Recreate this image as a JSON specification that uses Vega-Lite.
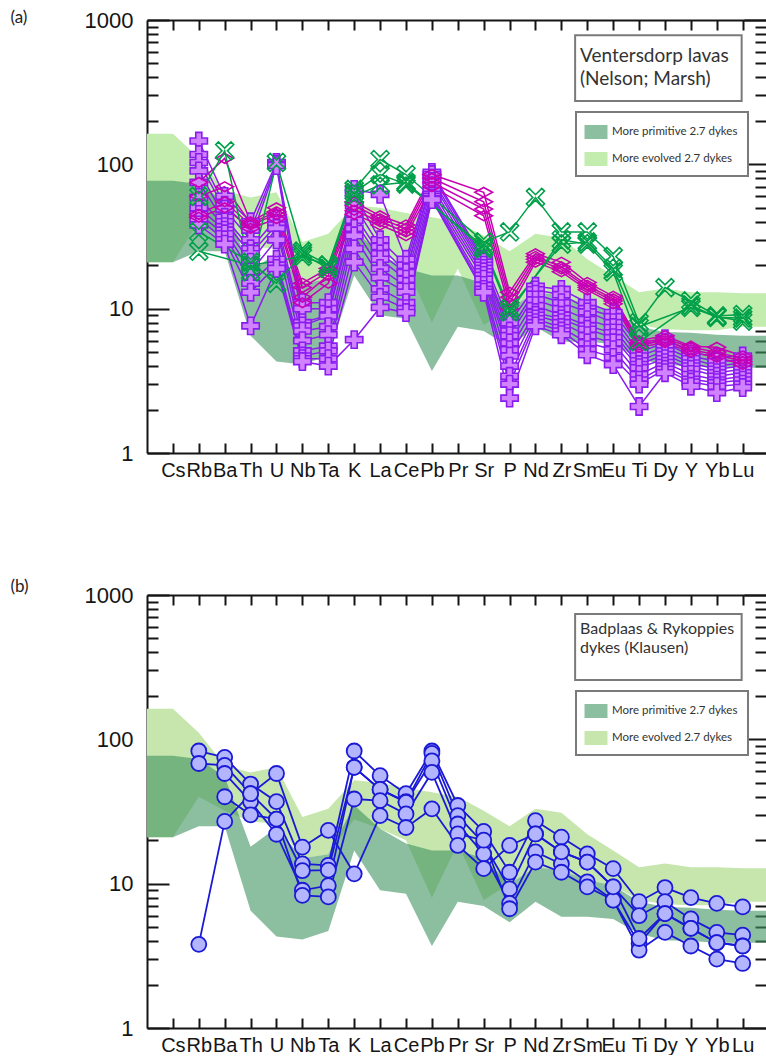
{
  "$schema": "https://vega.github.io/schema/vega-lite/v6.json",
  "background": "white",
  "padding": {"left": 10, "top": 8, "right": 0, "bottom": 0},
  "spacing": 97,
  "config": {
    "view": {"stroke": null},
    "axis": {
      "domainColor": "#151515", "domainWidth": 2,
      "tickColor": "#151515", "tickWidth": 2,
      "grid": false,
      "labelFont": "Liberation Sans", "labelColor": "#151515"
    }
  },
  "datasets": {
    "elements": [
      {"el": "Cs", "pos": 1}, {"el": "Rb", "pos": 2}, {"el": "Ba", "pos": 3}, {"el": "Th", "pos": 4},
      {"el": "U", "pos": 5}, {"el": "Nb", "pos": 6}, {"el": "Ta", "pos": 7}, {"el": "K", "pos": 8},
      {"el": "La", "pos": 9}, {"el": "Ce", "pos": 10}, {"el": "Pb", "pos": 11}, {"el": "Pr", "pos": 12},
      {"el": "Sr", "pos": 13}, {"el": "P", "pos": 14}, {"el": "Nd", "pos": 15}, {"el": "Zr", "pos": 16},
      {"el": "Sm", "pos": 17}, {"el": "Eu", "pos": 18}, {"el": "Ti", "pos": 19}, {"el": "Dy", "pos": 20},
      {"el": "Y", "pos": 21}, {"el": "Yb", "pos": 22}, {"el": "Lu", "pos": 23}
    ],
    "bands": [
      {"band": "More primitive 2.7 dykes", "pos": 0, "lo": 21, "hi": 77},
      {"band": "More primitive 2.7 dykes", "pos": 1, "lo": 21, "hi": 77},
      {"band": "More primitive 2.7 dykes", "pos": 2, "lo": 25, "hi": 73},
      {"band": "More primitive 2.7 dykes", "pos": 3, "lo": 25, "hi": 55},
      {"band": "More primitive 2.7 dykes", "pos": 4, "lo": 6.5, "hi": 18},
      {"band": "More primitive 2.7 dykes", "pos": 5, "lo": 4.3, "hi": 24.5},
      {"band": "More primitive 2.7 dykes", "pos": 6, "lo": 4.1, "hi": 15},
      {"band": "More primitive 2.7 dykes", "pos": 7, "lo": 4.7, "hi": 16},
      {"band": "More primitive 2.7 dykes", "pos": 8, "lo": 17, "hi": 35},
      {"band": "More primitive 2.7 dykes", "pos": 9, "lo": 9, "hi": 24},
      {"band": "More primitive 2.7 dykes", "pos": 10, "lo": 8.5, "hi": 19},
      {"band": "More primitive 2.7 dykes", "pos": 11, "lo": 3.7, "hi": 17},
      {"band": "More primitive 2.7 dykes", "pos": 12, "lo": 7.5, "hi": 17},
      {"band": "More primitive 2.7 dykes", "pos": 13, "lo": 7, "hi": 15},
      {"band": "More primitive 2.7 dykes", "pos": 14, "lo": 5.4, "hi": 10},
      {"band": "More primitive 2.7 dykes", "pos": 15, "lo": 7.5, "hi": 13},
      {"band": "More primitive 2.7 dykes", "pos": 16, "lo": 5.9, "hi": 12.4},
      {"band": "More primitive 2.7 dykes", "pos": 17, "lo": 5.9, "hi": 10.6},
      {"band": "More primitive 2.7 dykes", "pos": 18, "lo": 5.7, "hi": 9.7},
      {"band": "More primitive 2.7 dykes", "pos": 19, "lo": 4.5, "hi": 7.5},
      {"band": "More primitive 2.7 dykes", "pos": 20, "lo": 4.05, "hi": 6.9},
      {"band": "More primitive 2.7 dykes", "pos": 21, "lo": 4.0, "hi": 6.8},
      {"band": "More primitive 2.7 dykes", "pos": 22, "lo": 3.9, "hi": 6.6},
      {"band": "More primitive 2.7 dykes", "pos": 23, "lo": 3.9, "hi": 6.5},
      {"band": "More primitive 2.7 dykes", "pos": 24, "lo": 3.9, "hi": 6.5},
      {"band": "More evolved 2.7 dykes", "pos": 0, "lo": 21, "hi": 163},
      {"band": "More evolved 2.7 dykes", "pos": 1, "lo": 21, "hi": 163},
      {"band": "More evolved 2.7 dykes", "pos": 2, "lo": 40, "hi": 111},
      {"band": "More evolved 2.7 dykes", "pos": 3, "lo": 32, "hi": 66},
      {"band": "More evolved 2.7 dykes", "pos": 4, "lo": 27, "hi": 59},
      {"band": "More evolved 2.7 dykes", "pos": 5, "lo": 26, "hi": 64},
      {"band": "More evolved 2.7 dykes", "pos": 6, "lo": 15, "hi": 29},
      {"band": "More evolved 2.7 dykes", "pos": 7, "lo": 16, "hi": 33},
      {"band": "More evolved 2.7 dykes", "pos": 8, "lo": 28, "hi": 52},
      {"band": "More evolved 2.7 dykes", "pos": 9, "lo": 24, "hi": 50},
      {"band": "More evolved 2.7 dykes", "pos": 10, "lo": 20, "hi": 46},
      {"band": "More evolved 2.7 dykes", "pos": 11, "lo": 8, "hi": 43},
      {"band": "More evolved 2.7 dykes", "pos": 12, "lo": 19, "hi": 40},
      {"band": "More evolved 2.7 dykes", "pos": 13, "lo": 7.7, "hi": 32},
      {"band": "More evolved 2.7 dykes", "pos": 14, "lo": 10, "hi": 25},
      {"band": "More evolved 2.7 dykes", "pos": 15, "lo": 13, "hi": 33},
      {"band": "More evolved 2.7 dykes", "pos": 16, "lo": 12.4, "hi": 31},
      {"band": "More evolved 2.7 dykes", "pos": 17, "lo": 10.6, "hi": 22},
      {"band": "More evolved 2.7 dykes", "pos": 18, "lo": 9.7, "hi": 17},
      {"band": "More evolved 2.7 dykes", "pos": 19, "lo": 7.7, "hi": 13},
      {"band": "More evolved 2.7 dykes", "pos": 20, "lo": 7.2, "hi": 13.8},
      {"band": "More evolved 2.7 dykes", "pos": 21, "lo": 7.1, "hi": 13},
      {"band": "More evolved 2.7 dykes", "pos": 22, "lo": 7.1, "hi": 13},
      {"band": "More evolved 2.7 dykes", "pos": 23, "lo": 7.5, "hi": 12.8},
      {"band": "More evolved 2.7 dykes", "pos": 24, "lo": 7.5, "hi": 12.8}
    ],
    "lavas": [
      {"suite": "A", "s": "V1", "Rb": 145, "Ba": 60, "Th": 40, "U": 103, "Nb": 11, "Ta": 11, "K": 67, "La": 62, "Ce": 22, "Pb": 88, "Sr": 22, "P": 8, "Nd": 14.3, "Zr": 13.6, "Sm": 11, "Eu": 9.4, "Ti": 5.5, "Dy": 6.2, "Y": 5.0, "Yb": 4.6, "Lu": 4.7},
      {"suite": "A", "s": "V2", "Rb": 117, "Ba": 52, "Th": 35, "U": 100, "Nb": 10, "Ta": 10, "K": 62, "La": 30, "Ce": 20, "Pb": 85, "Sr": 21, "P": 7, "Nd": 13.5, "Zr": 12.5, "Sm": 10, "Eu": 8.8, "Ti": 5.0, "Dy": 5.8, "Y": 4.7, "Yb": 4.3, "Lu": 4.4},
      {"suite": "A", "s": "V3", "Rb": 103, "Ba": 49, "Th": 30, "U": 98, "Nb": 8, "Ta": 9, "K": 52, "La": 27, "Ce": 18, "Pb": 80, "Sr": 20, "P": 6.5, "Nd": 12.6, "Zr": 11, "Sm": 9.5, "Eu": 8, "Ti": 4.7, "Dy": 5.4, "Y": 4.5, "Yb": 4.0, "Lu": 4.2},
      {"suite": "A", "s": "V4", "Rb": 90, "Ba": 43, "Th": 26, "U": 42, "Nb": 7.6, "Ta": 8.9, "K": 45, "La": 24, "Ce": 17.8, "Pb": 76, "Sr": 19, "P": 5.8, "Nd": 11.5, "Zr": 10, "Sm": 8.4, "Eu": 7.4, "Ti": 4.35, "Dy": 5.1, "Y": 4.2, "Yb": 3.8, "Lu": 4.0},
      {"suite": "A", "s": "V5", "Rb": 75, "Ba": 40, "Th": 24, "U": 38, "Nb": 7, "Ta": 7.5, "K": 41, "La": 22, "Ce": 16, "Pb": 71, "Sr": 18, "P": 5.2, "Nd": 10.5, "Zr": 9, "Sm": 7.6, "Eu": 6.8, "Ti": 4.1, "Dy": 4.8, "Y": 4.0, "Yb": 3.6, "Lu": 3.8},
      {"suite": "A", "s": "V6", "Rb": 59, "Ba": 37, "Th": 21, "U": 36, "Nb": 6, "Ta": 6.6, "K": 36, "La": 19, "Ce": 14.3, "Pb": 66, "Sr": 17, "P": 4.7, "Nd": 9.4, "Zr": 8.5, "Sm": 7.2, "Eu": 6.3, "Ti": 3.9, "Dy": 4.5, "Y": 3.8, "Yb": 3.4, "Lu": 3.6},
      {"suite": "A", "s": "V7", "Rb": 50, "Ba": 35, "Th": 18, "U": 30, "Nb": 5.1, "Ta": 5.5, "K": 32, "La": 16.4, "Ce": 13, "Pb": 62, "Sr": 16, "P": 4, "Nd": 9, "Zr": 8, "Sm": 6.5, "Eu": 5.8, "Ti": 3.5, "Dy": 4.23, "Y": 3.5, "Yb": 3.2, "Lu": 3.4},
      {"suite": "A", "s": "V8", "Rb": 45, "Ba": 33, "Th": 15, "U": 22, "Nb": 4.7, "Ta": 5.1, "K": 26, "La": 13.7, "Ce": 11, "Pb": 60, "Sr": 14.5, "P": 3.4, "Nd": 8.5, "Zr": 7.4, "Sm": 5.8, "Eu": 5.2, "Ti": 3.2, "Dy": 4.0, "Y": 3.24, "Yb": 3.07, "Lu": 3.2},
      {"suite": "A", "s": "V9", "Rb": 42, "Ba": 30, "Th": 13, "U": 20, "Nb": 4.5, "Ta": 4.5, "K": 21, "La": 12, "Ce": 10, "Pb": 58, "Sr": 13.6, "P": 3, "Nd": 8, "Zr": 7, "Sm": 5.2, "Eu": 4.6, "Ti": 3.0, "Dy": 3.8, "Y": 3.1, "Yb": 2.9, "Lu": 3.0},
      {"suite": "A", "s": "V10", "Rb": 38, "Ba": 28, "Th": 7.6, "U": 19, "Nb": 4.3, "Ta": 4.0, "K": 6.1, "La": 10.2, "Ce": 9.4, "Pb": 57, "Sr": 13, "P": 2.4, "Nd": 7.6, "Zr": 6.6, "Sm": 4.8, "Eu": 4.1, "Ti": 2.1, "Dy": 3.6, "Y": 2.9, "Yb": 2.62, "Lu": 2.84},
      {"suite": "B", "s": "M1", "Rb": 75, "Ba": 110, "Th": 40, "U": 50, "Nb": 15, "Ta": 19, "K": 55, "La": 44, "Ce": 38, "Pb": 85, "Sr": 64, "P": 13, "Nd": 24, "Zr": 21, "Sm": 15.2, "Eu": 12.2, "Ti": 6.0, "Dy": 6.5, "Y": 5.5, "Yb": 5.4, "Lu": 4.7},
      {"suite": "B", "s": "M2", "Rb": 60, "Ba": 70, "Th": 39, "U": 47, "Nb": 14, "Ta": 18, "K": 52, "La": 42, "Ce": 36, "Pb": 80, "Sr": 55, "P": 12, "Nd": 23, "Zr": 19.5, "Sm": 14.5, "Eu": 11.7, "Ti": 5.8, "Dy": 6.2, "Y": 5.4, "Yb": 5.0, "Lu": 4.5},
      {"suite": "B", "s": "M3", "Rb": 45, "Ba": 55, "Th": 38, "U": 45, "Nb": 12, "Ta": 17, "K": 48, "La": 40, "Ce": 34, "Pb": 75, "Sr": 49, "P": 11, "Nd": 22, "Zr": 18.8, "Sm": 14, "Eu": 11.3, "Ti": 5.6, "Dy": 6.0, "Y": 5.2, "Yb": 4.8, "Lu": 4.3},
      {"suite": "B", "s": "M4", "Rb": 43, "Ba": 50, "Th": 36, "U": 42, "Nb": 11, "Ta": 15, "K": 45, "La": 38, "Ce": 32, "Pb": 70, "Sr": 44, "P": 10, "Nd": 21, "Zr": 18, "Sm": 13.5, "Eu": 10.8, "Ti": 5.4, "Dy": 5.8, "Y": 5.0, "Yb": 4.6, "Lu": 4.1},
      {"suite": "C", "s": "G1", "Rb": 60, "Ba": 124, "Th": 18, "U": 103, "Nb": 25, "Ta": 20, "K": 67, "La": 108, "Ce": 85, "Sr": 29, "P": 34, "Nd": 59, "Zr": 34, "Sm": 34, "Eu": 23, "Ti": 8, "Dy": 14, "Y": 11.3, "Yb": 8.9, "Lu": 9.1},
      {"suite": "C", "s": "G2", "Rb": 34, "Th": 21, "U": 15, "Nb": 24, "Ta": 19, "K": 64, "La": 85, "Ce": 73, "Sr": 27, "P": 10, "Zr": 28, "Sm": 29, "Eu": 19, "Ti": 7.5, "Y": 10.2, "Yb": 8.8, "Lu": 8.2},
      {"suite": "C", "s": "G3", "Rb": 25, "Th": 20, "Nb": 23, "Ta": 20, "K": 60, "La": 72, "Ce": 75, "Sr": 26, "P": 9.5, "Zr": 30, "Sm": 28, "Eu": 18, "Ti": 5.9, "Y": 10.6, "Yb": 8.7, "Lu": 8.6}
    ],
    "dykes": [
      {"s": "B1", "Rb": 83, "Ba": 75, "Th": 49, "U": 37, "Nb": 13.7, "Ta": 13.4, "K": 83, "La": 56, "Ce": 42, "Pb": 83, "Pr": 34.8, "Sr": 23, "P": 12, "Nd": 27.3, "Zr": 21, "Sm": 16.1, "Eu": 12.7, "Ti": 7.5, "Dy": 9.4, "Y": 8.0, "Yb": 7.3, "Lu": 6.9},
      {"s": "B2", "Rb": 68, "Ba": 66, "Th": 42, "U": 28, "Nb": 12.3, "Ta": 12.4, "K": 64, "La": 45, "Ce": 37, "Pb": 80, "Pr": 29.6, "Sr": 19, "P": 9.2, "Nd": 22.1, "Zr": 16.6, "Sm": 14.1, "Eu": 9.5, "Ti": 6.0, "Dy": 7.5, "Y": 5.7, "Yb": 4.6, "Lu": 4.4},
      {"s": "B3", "Ba": 58, "Th": 37, "U": 22, "Nb": 9.0, "Ta": 9.7, "K": 64, "La": 45, "Ce": 36.6, "Pb": 71, "Pr": 25.9, "Sr": 16.1, "P": 7.3, "Nd": 16.6, "Zr": 13.7, "Sm": 10.3, "Eu": 7.7, "Ti": 3.85, "Dy": 6.2, "Y": 4.9, "Yb": 3.9, "Lu": 3.7},
      {"s": "B4", "Ba": 40, "Th": 30, "U": 28, "Nb": 8.3, "Ta": 8.1, "K": 38.6, "La": 37.6, "Ce": 30.4, "Pb": 59, "Pr": 22.1, "Sr": 20, "P": 6.7, "Nd": 14.1, "Zr": 12, "Sm": 9.5, "Eu": 7.7, "Ti": 3.46, "Dy": 4.6, "Y": 3.7, "Yb": 3.0, "Lu": 2.8},
      {"s": "B5", "Rb": 3.8, "Ba": 27, "Th": 42, "U": 58, "Nb": 17.9, "Ta": 23.4, "K": 11.7, "La": 29.6, "Ce": 24.5, "Pb": 33, "Pr": 18.4, "Sr": 12.7, "P": 18.4, "Nd": 22.1, "Zr": 16.6, "Sm": 14.1, "Eu": 9.5, "Ti": 4.17, "Dy": 6.2, "Y": 4.9, "Yb": 3.9, "Lu": 3.7}
    ]
  },
  "resolve": {"scale": {"color": "independent", "stroke": "independent", "fill": "independent", "shape": "independent", "size": "independent"}, "legend": {"color": "independent"}},
  "vconcat": [
    {
      "width": 619,
      "height": 433,
      "resolve": {"axis": {"x": "independent", "y": "independent"}},
      "layer": [
        {
          "data": {"name": "bands"},
          "transform": [{"filter": "datum.band === 'More evolved 2.7 dykes'"}],
          "mark": {"type": "area", "orient": "vertical", "clip": true, "opacity": 1},
          "encoding": {
            "x": {
              "field": "pos", "type": "quantitative",
              "scale": {"domain": [0, 23.9], "nice": false, "zero": false},
              "axis": {
                "orient": "bottom", "title": null,
                "values": [1, 2, 3, 4, 5, 6, 7, 8, 9, 10, 11, 12, 13, 14, 15, 16, 17, 18, 19, 20, 21, 22, 23],
                "labelExpr": "['Cs','Rb','Ba','Th','U','Nb','Ta','K','La','Ce','Pb','Pr','Sr','P','Nd','Zr','Sm','Eu','Ti','Dy','Y','Yb','Lu'][datum.value - 1]",
                "tickSize": -10, "labelFontSize": 20, "labelPadding": 17,
                "labelOverlap": false, "labelFlush": false, "labelBound": false
              }
            },
            "y": {
              "field": "lo", "type": "quantitative",
              "scale": {"type": "log", "domain": [1, 1000], "nice": false},
              "axis": {
                "orient": "left",
                "values": [1, 2, 3, 4, 5, 6, 7, 8, 9, 10, 20, 30, 40, 50, 60, 70, 80, 90, 100, 200, 300, 400, 500, 600, 700, 800, 900, 1000],
                "format": "d",
                "labelExpr": "datum.value == 1 || datum.value == 10 || datum.value == 100 || datum.value == 1000 ? datum.label : ''",
                "tickSize": {"condition": {"test": "datum.value == 1 || datum.value == 10 || datum.value == 100 || datum.value == 1000", "value": -22}, "value": -11},
                "labelFontSize": 22, "labelPadding": 36, "labelOverlap": false, "labelFlush": false,
                "title": "(a)", "titleAngle": 0, "titleX": -137, "titleY": 2,
                "titleAlign": "left", "titleBaseline": "alphabetic",
                "titleFont": "Lato", "titleFontSize": 17, "titleFontWeight": "normal", "titleColor": "#222222"
              }
            },
            "y2": {"field": "hi"},
            "color": {
              "field": "band", "type": "nominal",
              "scale": {"domain": ["More primitive 2.7 dykes", "More evolved 2.7 dykes"], "range": ["#3f9361", "#c2edae"]},
              "legend": {
                "orient": "none", "legendX": 429, "legendY": 92, "title": null,
                "fillColor": "white", "strokeColor": "#7a7a7a", "padding": 10,
                "symbolType": "M-1.15,-0.7H1.15V0.7H-1.15Z", "symbolSize": 400,
                "symbolStrokeWidth": 0, "symbolOpacity": 1,
                "labelFont": "Lato", "labelFontSize": 11.5, "labelColor": "#333333",
                "labelOffset": 6, "rowPadding": 10, "labelLimit": 300,
                "encode": {
                  "legend": {"update": {"strokeWidth": {"value": 2}}},
                  "symbols": {"update": {"fillOpacity": {"signal": "datum.value === 'More primitive 2.7 dykes' ? 0.6 : 1"}}}
                }
              }
            }
          }
        },
        {
          "data": {"name": "bands"},
          "transform": [{"filter": "datum.band === 'More primitive 2.7 dykes'"}],
          "mark": {"type": "area", "orient": "vertical", "clip": true, "opacity": 0.6},
          "encoding": {
            "x": {"field": "pos", "type": "quantitative", "axis": null},
            "y": {"field": "lo", "type": "quantitative", "axis": null},
            "y2": {"field": "hi"},
            "color": {"field": "band", "type": "nominal"}
          }
        },
        {
          "data": {"name": "lavas"},
          "transform": [
            {"fold": ["Cs", "Rb", "Ba", "Th", "U", "Nb", "Ta", "K", "La", "Ce", "Pb", "Pr", "Sr", "P", "Nd", "Zr", "Sm", "Eu", "Ti", "Dy", "Y", "Yb", "Lu"], "as": ["el", "v"]},
            {"filter": "isValid(datum.v)"},
            {"lookup": "el", "from": {"data": {"name": "elements"}, "key": "el", "fields": ["pos"]}}
          ],
          "mark": {"type": "line", "strokeWidth": 1.5},
          "encoding": {
            "x": {
              "field": "pos", "type": "quantitative",
              "axis": {
                "orient": "top", "title": null, "labels": false,
                "values": [1, 2, 3, 4, 5, 6, 7, 8, 9, 10, 11, 12, 13, 14, 15, 16, 17, 18, 19, 20, 21, 22, 23],
                "tickSize": -10
              }
            },
            "y": {
              "field": "v", "type": "quantitative",
              "axis": {
                "orient": "right", "title": null, "labels": false, "domain": false,
                "values": [1, 2, 3, 4, 5, 6, 7, 8, 9, 10, 20, 30, 40, 50, 60, 70, 80, 90, 100, 200, 300, 400, 500, 600, 700, 800, 900, 1000],
                "tickSize": {"condition": {"test": "datum.value == 1 || datum.value == 10 || datum.value == 100 || datum.value == 1000", "value": -22}, "value": -11}
              }
            },
            "detail": {"field": "s"},
            "stroke": {"field": "suite", "type": "nominal", "scale": {"domain": ["A", "B", "C"], "range": ["#8a1cf0", "#c800b4", "#00a04a"]}, "legend": null}
          }
        },
        {
          "data": {"name": "lavas"},
          "transform": [
            {"fold": ["Cs", "Rb", "Ba", "Th", "U", "Nb", "Ta", "K", "La", "Ce", "Pb", "Pr", "Sr", "P", "Nd", "Zr", "Sm", "Eu", "Ti", "Dy", "Y", "Yb", "Lu"], "as": ["el", "v"]},
            {"filter": "isValid(datum.v)"},
            {"lookup": "el", "from": {"data": {"name": "elements"}, "key": "el", "fields": ["pos"]}}
          ],
          "mark": {"type": "point", "filled": true, "opacity": 1, "strokeWidth": 1.6},
          "encoding": {
            "x": {"field": "pos", "type": "quantitative", "axis": null},
            "y": {"field": "v", "type": "quantitative", "axis": null},
            "shape": {"field": "suite", "type": "nominal", "scale": {"domain": ["A", "B", "C"], "range": ["M-1,-0.35H-0.35V-1H0.35V-0.35H1V0.35H0.35V1H-0.35V0.35H-1Z", "M-1,0L0,-0.55L1,0L0,0.55Z", "M-1,-0.7L-0.7,-1L0,-0.3L0.7,-1L1,-0.7L0.3,0L1,0.7L0.7,1L0,0.3L-0.7,1L-1,0.7L-0.3,0Z"]}, "legend": null},
            "stroke": {"field": "suite", "type": "nominal", "scale": {"domain": ["A", "B", "C"], "range": ["#8a1cf0", "#c800b4", "#00a04a"]}, "legend": null},
            "fill": {"field": "suite", "type": "nominal", "scale": {"domain": ["A", "B", "C"], "range": ["#d182ff", "transparent", "transparent"]}, "legend": null},
            "size": {"field": "suite", "type": "nominal", "scale": {"domain": ["A", "B", "C"], "range": [300, 324, 250]}, "legend": null}
          }
        },
        {
          "data": {"values": [{}]},
          "mark": {"type": "rect", "fill": "white", "stroke": "#7a7a7a", "strokeWidth": 2},
          "encoding": {
            "x": {"datum": 16.53, "type": "quantitative", "axis": null},
            "x2": {"datum": 22.96},
            "y": {"datum": 783, "type": "quantitative", "axis": null},
            "y2": {"datum": 275}
          }
        },
        {
          "data": {"values": [{}]},
          "mark": {"type": "text", "text": ["Ventersdorp lavas", "(Nelson; Marsh)"], "align": "left", "baseline": "alphabetic", "lineHeight": 22.5, "font": "Lato", "fontSize": 19, "color": "#333333"},
          "encoding": {
            "x": {"datum": 16.72, "type": "quantitative", "axis": null},
            "y": {"datum": 511, "type": "quantitative", "axis": null}
          }
        }
      ]
    },
    {
      "width": 619,
      "height": 433,
      "resolve": {"axis": {"x": "independent", "y": "independent"}},
      "layer": [
        {
          "data": {"name": "bands"},
          "transform": [{"filter": "datum.band === 'More evolved 2.7 dykes'"}],
          "mark": {"type": "area", "orient": "vertical", "clip": true, "opacity": 1},
          "encoding": {
            "x": {
              "field": "pos", "type": "quantitative",
              "scale": {"domain": [0, 23.9], "nice": false, "zero": false},
              "axis": {
                "orient": "bottom", "title": null,
                "values": [1, 2, 3, 4, 5, 6, 7, 8, 9, 10, 11, 12, 13, 14, 15, 16, 17, 18, 19, 20, 21, 22, 23],
                "labelExpr": "['Cs','Rb','Ba','Th','U','Nb','Ta','K','La','Ce','Pb','Pr','Sr','P','Nd','Zr','Sm','Eu','Ti','Dy','Y','Yb','Lu'][datum.value - 1]",
                "tickSize": -10, "labelFontSize": 20, "labelPadding": 17,
                "labelOverlap": false, "labelFlush": false, "labelBound": false
              }
            },
            "y": {
              "field": "lo", "type": "quantitative",
              "scale": {"type": "log", "domain": [1, 1000], "nice": false},
              "axis": {
                "orient": "left",
                "values": [1, 2, 3, 4, 5, 6, 7, 8, 9, 10, 20, 30, 40, 50, 60, 70, 80, 90, 100, 200, 300, 400, 500, 600, 700, 800, 900, 1000],
                "format": "d",
                "labelExpr": "datum.value == 1 || datum.value == 10 || datum.value == 100 || datum.value == 1000 ? datum.label : ''",
                "tickSize": {"condition": {"test": "datum.value == 1 || datum.value == 10 || datum.value == 100 || datum.value == 1000", "value": -22}, "value": -11},
                "labelFontSize": 22, "labelPadding": 36, "labelOverlap": false, "labelFlush": false,
                "title": "(b)", "titleAngle": 0, "titleX": -137, "titleY": -4,
                "titleAlign": "left", "titleBaseline": "alphabetic",
                "titleFont": "Lato", "titleFontSize": 17, "titleFontWeight": "normal", "titleColor": "#222222"
              }
            },
            "y2": {"field": "hi"},
            "color": {
              "field": "band", "type": "nominal",
              "scale": {"domain": ["More primitive 2.7 dykes", "More evolved 2.7 dykes"], "range": ["#3f9361", "#c6e6ad"]},
              "legend": {
                "orient": "none", "legendX": 429, "legendY": 96, "title": null,
                "fillColor": "white", "strokeColor": "#7a7a7a", "padding": 10,
                "symbolType": "M-1.15,-0.7H1.15V0.7H-1.15Z", "symbolSize": 400,
                "symbolStrokeWidth": 0, "symbolOpacity": 1,
                "labelFont": "Lato", "labelFontSize": 11.5, "labelColor": "#333333",
                "labelOffset": 6, "rowPadding": 10, "labelLimit": 300,
                "encode": {
                  "legend": {"update": {"strokeWidth": {"value": 2}}},
                  "symbols": {"update": {"fillOpacity": {"signal": "datum.value === 'More primitive 2.7 dykes' ? 0.6 : 1"}}}
                }
              }
            }
          }
        },
        {
          "data": {"name": "bands"},
          "transform": [{"filter": "datum.band === 'More primitive 2.7 dykes'"}],
          "mark": {"type": "area", "orient": "vertical", "clip": true, "opacity": 0.6},
          "encoding": {
            "x": {"field": "pos", "type": "quantitative", "axis": null},
            "y": {"field": "lo", "type": "quantitative", "axis": null},
            "y2": {"field": "hi"},
            "color": {"field": "band", "type": "nominal"}
          }
        },
        {
          "data": {"name": "dykes"},
          "transform": [
            {"fold": ["Cs", "Rb", "Ba", "Th", "U", "Nb", "Ta", "K", "La", "Ce", "Pb", "Pr", "Sr", "P", "Nd", "Zr", "Sm", "Eu", "Ti", "Dy", "Y", "Yb", "Lu"], "as": ["el", "v"]},
            {"filter": "isValid(datum.v)"},
            {"lookup": "el", "from": {"data": {"name": "elements"}, "key": "el", "fields": ["pos"]}}
          ],
          "mark": {"type": "line", "strokeWidth": 1.8, "color": "#1a1ad6"},
          "encoding": {
            "x": {
              "field": "pos", "type": "quantitative",
              "axis": {
                "orient": "top", "title": null, "labels": false,
                "values": [1, 2, 3, 4, 5, 6, 7, 8, 9, 10, 11, 12, 13, 14, 15, 16, 17, 18, 19, 20, 21, 22, 23],
                "tickSize": -10
              }
            },
            "y": {
              "field": "v", "type": "quantitative",
              "axis": {
                "orient": "right", "title": null, "labels": false, "domain": false,
                "values": [1, 2, 3, 4, 5, 6, 7, 8, 9, 10, 20, 30, 40, 50, 60, 70, 80, 90, 100, 200, 300, 400, 500, 600, 700, 800, 900, 1000],
                "tickSize": {"condition": {"test": "datum.value == 1 || datum.value == 10 || datum.value == 100 || datum.value == 1000", "value": -22}, "value": -11}
              }
            },
            "detail": {"field": "s"}
          }
        },
        {
          "data": {"name": "dykes"},
          "transform": [
            {"fold": ["Cs", "Rb", "Ba", "Th", "U", "Nb", "Ta", "K", "La", "Ce", "Pb", "Pr", "Sr", "P", "Nd", "Zr", "Sm", "Eu", "Ti", "Dy", "Y", "Yb", "Lu"], "as": ["el", "v"]},
            {"filter": "isValid(datum.v)"},
            {"lookup": "el", "from": {"data": {"name": "elements"}, "key": "el", "fields": ["pos"]}}
          ],
          "mark": {"type": "point", "shape": "circle", "filled": true, "opacity": 1, "fill": "#b3b6ff", "stroke": "#1a1ad6", "strokeWidth": 1.8, "size": 225},
          "encoding": {
            "x": {"field": "pos", "type": "quantitative", "axis": null},
            "y": {"field": "v", "type": "quantitative", "axis": null}
          }
        },
        {
          "data": {"values": [{}]},
          "mark": {"type": "rect", "fill": "white", "stroke": "#7a7a7a", "strokeWidth": 2},
          "encoding": {
            "x": {"datum": 16.53, "type": "quantitative", "axis": null},
            "x2": {"datum": 22.96},
            "y": {"datum": 738, "type": "quantitative", "axis": null},
            "y2": {"datum": 258}
          }
        },
        {
          "data": {"values": [{}]},
          "mark": {"type": "text", "text": ["Badplaas & Rykoppies", "dykes (Klausen)"], "align": "left", "baseline": "alphabetic", "lineHeight": 18.4, "font": "Lato", "fontSize": 16, "color": "#333333"},
          "encoding": {
            "x": {"datum": 16.72, "type": "quantitative", "axis": null},
            "y": {"datum": 535, "type": "quantitative", "axis": null}
          }
        }
      ]
    }
  ]
}
